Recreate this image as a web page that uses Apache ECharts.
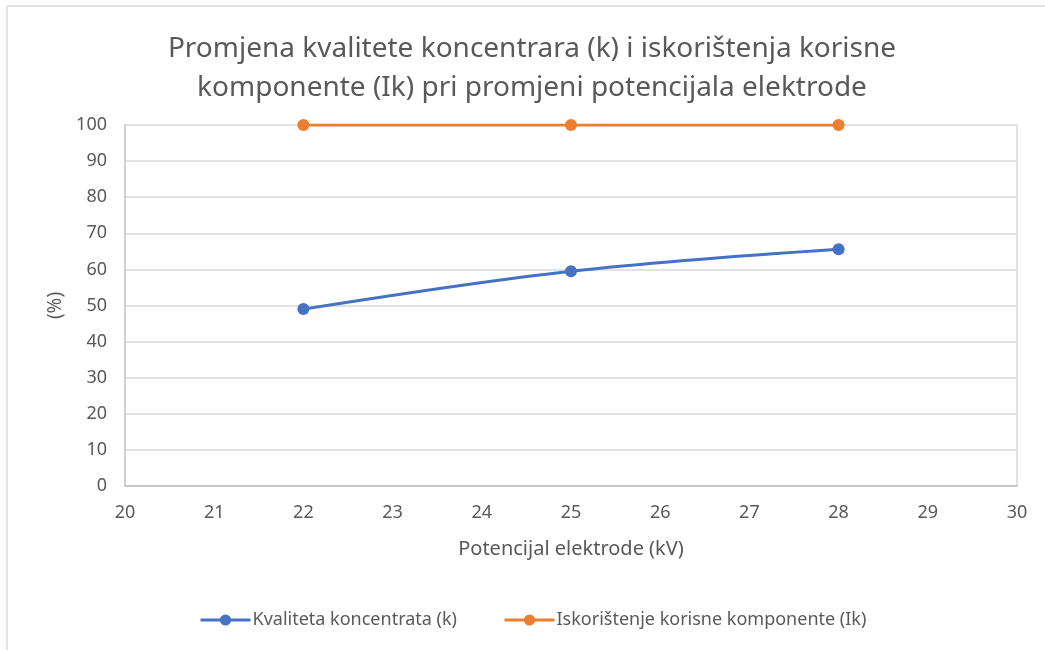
<!DOCTYPE html>
<html>
<head>
<meta charset="utf-8">
<script src="https://cdn.jsdelivr.net/npm/echarts@6/dist/echarts.min.js"></script>
<style>
  html, body { margin: 0; padding: 0; background: #fff; }
  #chart { width: 1045px; height: 650px; }
</style>
</head>
<body>
<div id="chart"></div>
<script>
// Electrode potential (kV) and measured percentages
const potential = [22, 25, 28];
const quality = [49.0, 59.5, 65.6];      // Kvaliteta koncentrata (k)
const recovery = [100, 100, 100];         // Iskorištenje korisne komponente (Ik)
const xTicks = { min: 20, max: 30, step: 1 };
const yTicks = { min: 0, max: 100, step: 10 };

const FONT = '"Noto Sans", "Liberation Sans", sans-serif';
const TXT = '#595959';

const chart = echarts.init(document.getElementById('chart'), null, { renderer: 'canvas' });

chart.setOption({
  backgroundColor: '#ffffff',
  animation: false,
  textStyle: { fontFamily: FONT },
  title: {
    text: 'Promjena kvalitete koncentrara (k) i iskorištenja korisne\nkomponente (Ik) pri promjeni potencijala elektrode',
    left: 527,
    top: 25,
    textAlign: 'center',
    textStyle: {
      fontFamily: FONT, fontSize: 28, fontWeight: 'normal',
      color: TXT, lineHeight: 39
    }
  },
  legend: {
    top: 606,
    left: 194,
    itemGap: 46,
    itemWidth: 50,
    itemHeight: 14,
    lineStyle: { width: 3 },
    textStyle: { fontFamily: FONT, fontSize: 18, color: TXT, padding: [0, 0, 0, -3] },
    data: ['Kvaliteta koncentrata (k)', 'Iskorištenje korisne komponente (Ik)']
  },
  grid: { left: 125, right: 28, top: 125, bottom: 164, containLabel: false },
  xAxis: {
    type: 'value',
    min: xTicks.min, max: xTicks.max, interval: xTicks.step,
    name: 'Potencijal elektrode (kV)',
    nameLocation: 'middle',
    nameGap: 53,
    nameTextStyle: { fontFamily: FONT, fontSize: 20, color: TXT },
    axisLine: { show: true, lineStyle: { color: '#bfbfbf', width: 1.5 } },
    axisTick: { show: false },
    axisLabel: { fontFamily: FONT, fontSize: 18, color: TXT, margin: 18 },
    splitLine: { show: false }
  },
  yAxis: [{
    type: 'value',
    min: yTicks.min, max: yTicks.max, interval: yTicks.step,
    name: '(%)',
    nameLocation: 'middle',
    nameGap: 60,
    nameRotate: 90,
    nameTextStyle: { fontFamily: FONT, fontSize: 19, color: TXT },
    axisLine: { show: true, lineStyle: { color: '#bfbfbf', width: 1.5 } },
    axisTick: { show: false },
    axisLabel: { fontFamily: FONT, fontSize: 18, color: TXT, margin: 18 },
    splitLine: { show: true, lineStyle: { color: '#d9d9d9', width: 1.5 } }
  }, {
    type: 'value',
    position: 'right',
    min: yTicks.min, max: yTicks.max, interval: yTicks.step,
    axisLine: { show: true, lineStyle: { color: '#d9d9d9', width: 1.5 } },
    axisTick: { show: false },
    axisLabel: { show: false },
    splitLine: { show: false }
  }],
  series: [
    {
      name: 'Kvaliteta koncentrata (k)',
      type: 'line',
      smooth: 0.35,
      data: potential.map((x, i) => [x, quality[i]]),
      symbol: 'circle',
      symbolSize: 12,
      lineStyle: { color: '#4472C4', width: 3 },
      itemStyle: { color: '#4472C4' }
    },
    {
      name: 'Iskorištenje korisne komponente (Ik)',
      type: 'line',
      smooth: 0.35,
      data: potential.map((x, i) => [x, recovery[i]]),
      symbol: 'circle',
      symbolSize: 12,
      lineStyle: { color: '#ED7D31', width: 3 },
      itemStyle: { color: '#ED7D31' }
    }
  ],
  graphic: [
    { type: 'line', shape: { x1: 7, y1: 6, x2: 1045, y2: 6 }, style: { stroke: '#e3e3e3', lineWidth: 2 } },
    { type: 'line', shape: { x1: 7, y1: 6, x2: 7, y2: 650 }, style: { stroke: '#e3e3e3', lineWidth: 2 } }
  ]
});
</script>
</body>
</html>
